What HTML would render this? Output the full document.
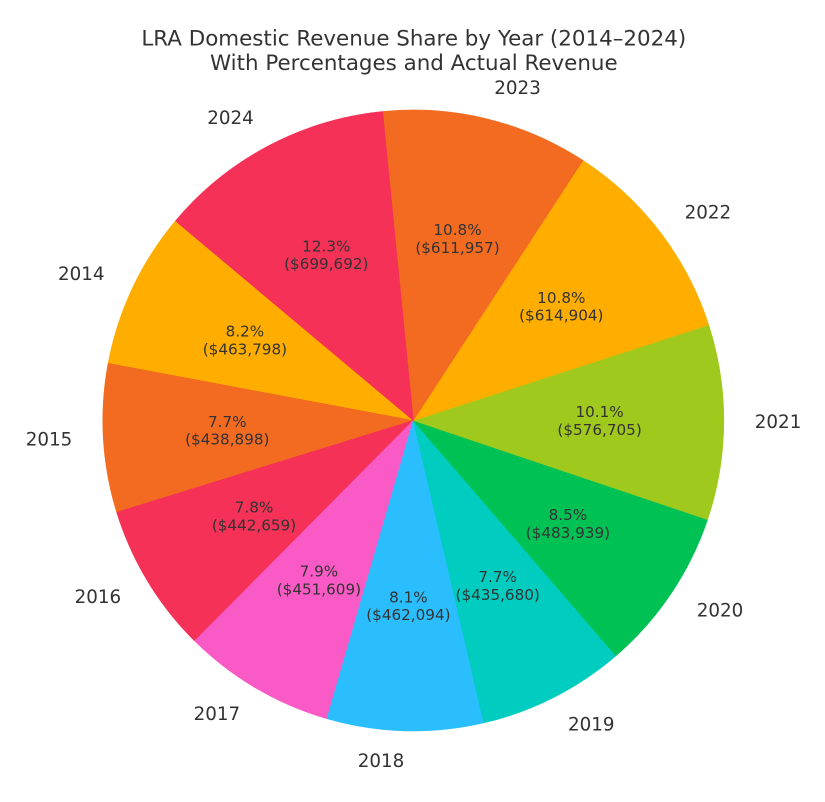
<!DOCTYPE html>
<html>
<head>
<meta charset="utf-8">
<style>
html,body{margin:0;padding:0;background:#fff;}
svg{display:block;}
text{font-family:"DejaVu Sans","Liberation Sans",sans-serif;fill:#333333;}
.t{font-size:21.4px;}
.l{font-size:18.3px;}
.p{font-size:15.2px;}
</style>
</head>
<body>
<svg width="825" height="802" viewBox="0 0 825 802" xmlns="http://www.w3.org/2000/svg">
<rect width="825" height="802" fill="#ffffff"/>
<text class="t" x="413.8" y="45.7" text-anchor="middle">LRA Domestic Revenue Share by Year (2014–2024)</text>
<text class="t" x="413.8" y="70" text-anchor="middle">With Percentages and Actual Revenue</text>

<g stroke-width="0.6" stroke-linejoin="round">
<path d="M413.3 420.5 L175.44 220.91 A310.5 310.5 0 0 0 108.11 363.30 Z" fill="#FFAE00" stroke="#FFAE00"/>
<path d="M413.3 420.5 L108.11 363.30 A310.5 310.5 0 0 0 116.68 512.28 Z" fill="#F26B21" stroke="#F26B21"/>
<path d="M413.3 420.5 L116.68 512.28 A310.5 310.5 0 0 0 194.66 640.97 Z" fill="#F53157" stroke="#F53157"/>
<path d="M413.3 420.5 L194.66 640.97 A310.5 310.5 0 0 0 326.94 718.75 Z" fill="#F95AC5" stroke="#F95AC5"/>
<path d="M413.3 420.5 L326.94 718.75 A310.5 310.5 0 0 0 483.83 722.88 Z" fill="#2BBEFF" stroke="#2BBEFF"/>
<path d="M413.3 420.5 L483.83 722.88 A310.5 310.5 0 0 0 615.92 655.78 Z" fill="#00CCC0" stroke="#00CCC0"/>
<path d="M413.3 420.5 L615.92 655.78 A310.5 310.5 0 0 0 707.58 519.56 Z" fill="#00C154" stroke="#00C154"/>
<path d="M413.3 420.5 L707.58 519.56 A310.5 310.5 0 0 0 708.71 324.89 Z" fill="#A0C91E" stroke="#A0C91E"/>
<path d="M413.3 420.5 L708.71 324.89 A310.5 310.5 0 0 0 582.89 160.40 Z" fill="#FFAE00" stroke="#FFAE00"/>
<path d="M413.3 420.5 L582.89 160.40 A310.5 310.5 0 0 0 382.64 111.52 Z" fill="#F26B21" stroke="#F26B21"/>
<path d="M413.3 420.5 L382.64 111.52 A310.5 310.5 0 0 0 175.44 220.91 Z" fill="#F53157" stroke="#F53157"/>
</g>

<!-- year labels -->
<text class="l" x="104.5" y="279.8" text-anchor="end">2014</text>
<text class="l" x="72.3" y="445.4" text-anchor="end">2015</text>
<text class="l" x="121.2" y="602.8" text-anchor="end">2016</text>
<text class="l" x="240.2" y="720.2" text-anchor="end">2017</text>
<text class="l" x="404.3" y="767.2" text-anchor="end">2018</text>
<text class="l" x="568.0" y="730.3" text-anchor="start">2019</text>
<text class="l" x="696.7" y="616.5" text-anchor="start">2020</text>
<text class="l" x="754.8" y="427.8" text-anchor="start">2021</text>
<text class="l" x="684.6" y="218.3" text-anchor="start">2022</text>
<text class="l" x="494.3" y="94.0" text-anchor="start">2023</text>
<text class="l" x="253.8" y="123.8" text-anchor="end">2024</text>

<!-- percentage labels -->
<g text-anchor="middle">
<text class="p" x="244.9" y="336.5">8.2%</text>
<text class="p" x="244.9" y="354.3">($463,798)</text>
<text class="p" x="227.3" y="426.8">7.7%</text>
<text class="p" x="227.3" y="444.6">($438,898)</text>
<text class="p" x="254.0" y="512.7">7.8%</text>
<text class="p" x="254.0" y="530.5">($442,659)</text>
<text class="p" x="318.9" y="576.7">7.9%</text>
<text class="p" x="318.9" y="594.5">($451,609)</text>
<text class="p" x="408.4" y="602.3">8.1%</text>
<text class="p" x="408.4" y="620.1">($462,094)</text>
<text class="p" x="497.7" y="582.2">7.7%</text>
<text class="p" x="497.7" y="600.0">($435,680)</text>
<text class="p" x="567.9" y="520.1">8.5%</text>
<text class="p" x="567.9" y="537.9">($483,939)</text>
<text class="p" x="599.6" y="417.2">10.1%</text>
<text class="p" x="599.6" y="435.0">($576,705)</text>
<text class="p" x="561.3" y="302.9">10.8%</text>
<text class="p" x="561.3" y="320.7">($614,904)</text>
<text class="p" x="457.5" y="235.1">10.8%</text>
<text class="p" x="457.5" y="252.9">($611,957)</text>
<text class="p" x="326.3" y="251.4">12.3%</text>
<text class="p" x="326.3" y="269.2">($699,692)</text>
</g>
</svg>
</body>
</html>
